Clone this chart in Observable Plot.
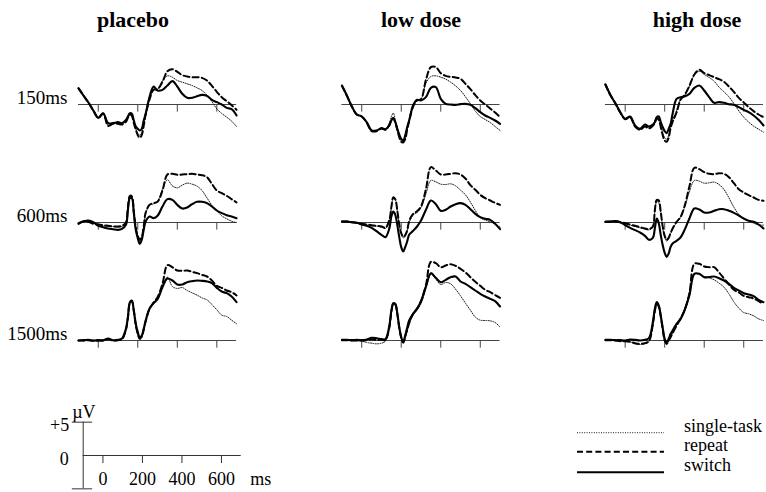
<!DOCTYPE html>
<html><head><meta charset="utf-8">
<script src="https://cdn.jsdelivr.net/npm/d3@7"></script>
<script src="https://cdn.jsdelivr.net/npm/@observablehq/plot@0.6"></script>
<style>
body{margin:0;background:#fff;}
#wrap{position:relative;width:766px;height:492px;overflow:hidden;font-family:"Liberation Serif","Times New Roman",serif;}
#wrap > svg{position:absolute;left:0;}
</style></head><body><div id="wrap"></div>
<script>
// ---- data ----
const times = [-100,-75,-50,-25,0,25,50,75,100,120,140,150,160,170,180,190,200,210,220,230,240,260,280,300,325,350,375,400,425,450,475,500,525,550,575,600,625,650,675,700];
const conditions = ["placebo","low dose","high dose"];
const intervals = ["150ms","600ms","1500ms"];
const seriesNames = ["single-task","repeat","switch"];
const tickValues = [0,200,400,600];
const scaleLabels = ["+5","0","µV","ms"];

// placebo
const placebo150Single = [2.4,1.3,0.25,-0.9,-2.0,-1.4,-3.1,-2.8,-2.8,-2.9,-2.5,-1.9,-1.3,-1.4,-2.6,-3.6,-4.3,-4.6,-4.2,-2.9,-1.3,0.9,2.3,2.3,3.6,4.3,4.1,3.6,3.35,3.1,2.85,2.5,2.1,1.4,0.45,-0.65,-1.35,-1.9,-2.5,-3.3];
const placebo150Repeat = [2.4,1.35,0.3,-0.9,-2.0,-1.4,-3.2,-2.9,-2.9,-3.0,-2.6,-2.0,-1.5,-1.7,-2.8,-3.8,-4.6,-5.0,-4.6,-3.2,-1.5,0.8,2.2,2.3,3.4,5.0,5.3,4.9,4.4,4.2,4.1,4.1,4.0,3.6,2.8,1.9,1.1,0.5,-0.1,-0.8];
const placebo150Switch = [2.45,1.35,0.3,-0.9,-2.0,-1.3,-2.8,-2.8,-2.65,-2.8,-2.3,-1.8,-1.3,-1.4,-2.4,-3.3,-3.65,-3.9,-3.65,-2.4,-1.4,1.2,2.7,2.1,2.2,2.85,3.5,2.7,1.6,1.0,1.0,1.25,1.45,1.3,0.7,0.35,0.0,-0.5,-0.7,-1.65];
const placebo600Single = [-0.15,0.15,0.15,-0.1,-0.3,-0.5,-0.6,-0.6,-0.7,-0.6,-0.1,2.0,3.9,3.8,1.5,-0.9,-2.1,-2.7,-2.3,-0.8,1.3,2.6,2.8,3.2,5.0,6.4,5.5,5.2,5.6,5.9,5.75,5.45,4.8,3.7,2.6,1.75,1.0,0.55,0.2,0.0];
const placebo600Repeat = [-0.1,0.2,0.1,-0.2,-0.3,-0.4,-0.5,-0.6,-0.6,-0.5,0.0,2.2,4.0,3.9,1.6,-0.8,-2.0,-2.6,-2.2,-0.6,1.5,2.65,2.9,3.1,4.8,7.2,7.3,7.15,7.2,7.25,7.3,7.2,7.1,6.8,5.8,4.8,4.4,4.0,3.5,3.0];
const placebo600Switch = [-0.2,0.15,0.3,0.05,-0.5,-0.7,-0.9,-1.0,-1.1,-0.95,-0.35,1.9,3.65,3.65,1.4,-1.1,-2.35,-3.2,-2.6,-1.1,0.15,0.9,0.65,1.0,2.4,3.5,3.4,2.65,2.1,2.25,2.75,3.1,3.1,2.9,2.4,1.8,1.4,1.1,0.9,0.65];
const placebo1500Single = [0,-0.05,0,0,-0.1,-0.1,0.25,-0.05,0,0.2,1.6,3.3,5.5,5.9,4.4,2.2,0.8,0.1,0.4,1.5,2.8,4.7,5.5,6.3,8.2,9.5,8.1,7.8,7.95,7.5,7.15,6.8,6.4,6.1,5.4,4.6,3.8,3.6,3.05,2.5];
const placebo1500Repeat = [0,0,0.05,-0.05,0,0,0.2,0,0.05,0.2,1.6,3.4,5.6,5.9,4.4,2.3,1.0,0.3,0.6,1.6,2.9,4.8,5.7,6.5,8.5,11.3,11.0,10.5,10.45,10.5,10.3,10.1,9.85,9.6,9.0,8.2,7.9,7.5,7.25,6.75];
const placebo1500Switch = [0,0.05,0.1,0,0.05,0.05,0.3,0.05,0.1,0.3,1.75,3.5,5.75,6.0,4.5,2.5,1.25,0.5,0.75,1.75,3.0,4.8,5.6,6.2,8.0,9.3,9.0,8.4,8.4,8.75,8.9,9.0,8.95,8.85,8.6,7.9,7.35,7.1,6.6,5.75];
// low dose
const low150Single = [2.8,1.3,-0.3,-1.5,-1.8,-2.7,-3.9,-3.9,-3.6,-3.8,-2.8,-1.8,-1.3,-2.3,-3.6,-4.8,-5.5,-5.6,-5.0,-3.6,-2.4,-0.3,0.6,0.8,3.2,4.2,4.3,4.1,3.8,3.35,2.8,2.1,1.15,0.1,-1.0,-1.8,-2.25,-2.7,-3.3,-3.9];
const low150Repeat = [2.8,1.3,-0.3,-1.5,-1.8,-2.7,-4.0,-4.0,-3.6,-3.8,-3.0,-2.3,-2.0,-2.7,-3.8,-4.9,-5.6,-5.7,-5.2,-3.8,-2.5,-0.3,0.6,0.8,3.7,5.6,5.6,4.7,4.3,4.15,4.05,3.85,3.1,2.3,1.4,0.6,0.0,-0.6,-1.2,-1.9];
const low150Switch = [2.85,1.35,-0.3,-1.5,-1.8,-2.65,-3.9,-3.9,-3.55,-3.7,-3.15,-2.4,-2.15,-2.65,-3.65,-4.5,-5.15,-5.4,-4.65,-3.4,-2.4,-0.15,0.7,0.6,1.1,2.5,2.6,0.85,0.1,0.0,-0.05,0.05,0.1,-0.05,-0.55,-1.15,-1.65,-2.0,-2.4,-2.9];
const low600Single = [0.1,0.1,0.0,-0.1,-0.3,-0.35,-0.5,-0.55,-0.7,-0.9,0.3,2.1,3.7,3.4,1.7,-0.4,-1.7,-2.3,-2.0,-1.3,0.0,1.1,1.5,2.2,4.3,6.3,6.1,5.75,5.7,5.8,5.5,4.85,4.15,3.05,1.8,0.7,0.35,0.1,-0.25,-0.7];
const low600Repeat = [0.15,0.15,0.05,-0.05,-0.2,-0.3,-0.4,-0.5,-0.6,-0.8,0.4,2.3,3.8,3.5,1.8,-0.3,-1.6,-2.2,-1.9,-1.2,0.2,1.3,1.7,2.4,5.0,8.3,7.8,7.2,7.2,7.3,7.4,7.2,6.6,5.6,4.9,4.15,3.65,3.3,2.95,2.65];
const low600Switch = [0.15,0.15,0.05,-0.05,-0.3,-0.5,-0.8,-1.3,-1.85,-2.2,-0.85,0.9,1.65,1.15,-0.35,-2.2,-3.7,-4.35,-3.7,-2.85,-1.85,-1.25,-0.6,0.3,1.9,3.3,2.75,1.75,1.9,2.4,2.75,2.9,2.65,2.0,1.3,0.8,0.55,0.4,-0.2,-1.0];
const low1500Single = [0.05,0.0,0.0,-0.05,-0.1,-0.3,-0.4,-0.5,-0.4,-0.1,1.8,4.1,5.4,5.3,3.9,1.8,0.3,-0.4,0.4,1.4,2.4,3.8,4.6,5.5,7.8,9.9,9.2,8.4,8.7,8.5,7.7,6.7,5.6,4.55,3.5,3.05,3.0,2.95,2.7,2.0];
const low1500Repeat = [0.05,0.05,0.0,0.0,0.0,0.05,0.2,0.1,0.1,0.1,2.0,4.3,5.5,5.4,4.0,1.9,0.4,-0.3,0.6,1.6,2.6,4.0,4.8,5.9,8.3,11.8,11.6,11.0,11.25,11.45,11.2,10.75,10.2,9.5,8.8,8.2,7.6,7.25,6.8,6.4];
const low1500Switch = [0.1,0.1,0.05,0.1,0.05,0.15,0.4,0.35,0.2,0.2,2.25,4.5,5.6,5.5,4.1,2.0,0.5,-0.25,0.75,1.9,3.0,4.0,4.75,5.9,8.1,10.1,9.4,8.75,9.1,9.5,9.6,8.85,8.5,8.0,7.5,7.0,6.6,6.25,5.9,5.1];
// high dose
const high150Single = [3.0,1.4,0.2,-1.2,-2.2,-1.9,-3.2,-3.7,-3.2,-3.5,-3.0,-2.4,-1.8,-2.0,-3.1,-4.2,-5.0,-5.2,-4.6,-3.3,-2.3,-0.9,0.8,1.3,2.7,4.4,5.0,4.5,4.05,3.5,2.6,1.9,1.15,0.15,-0.95,-1.9,-2.65,-3.25,-3.7,-4.15];
const high150Repeat = [3.0,1.4,0.2,-1.2,-2.2,-1.9,-3.3,-3.8,-3.3,-3.6,-3.2,-2.7,-2.1,-2.3,-3.4,-4.6,-5.4,-5.6,-5.0,-3.5,-2.6,-1.2,0.7,1.4,2.8,4.5,5.2,4.7,4.4,4.1,3.8,3.4,2.7,1.9,1.0,0.3,-0.4,-1.0,-1.5,-1.9];
const high150Switch = [3.0,1.45,0.2,-1.15,-2.15,-1.8,-3.15,-3.65,-3.0,-3.3,-3.0,-2.65,-1.9,-1.8,-2.65,-3.4,-4.0,-4.3,-3.65,-2.9,-1.4,0.85,1.1,1.2,1.6,2.5,2.85,2.1,1.1,0.25,0.35,0.25,0.05,-0.05,-0.4,-0.8,-1.15,-1.65,-2.3,-3.15];
const high600Single = [0.1,0.1,0.1,0.0,-0.2,-0.4,-0.6,-0.8,-1.0,-1.1,-0.7,1.6,3.2,2.9,1.4,-0.8,-2.2,-2.8,-2.4,-1.7,-1.0,0.0,0.8,2.2,4.6,6.3,6.2,5.9,5.95,6.05,5.7,4.95,3.7,2.3,1.2,0.5,0.25,-0.1,-0.35,-0.4];
const high600Repeat = [0.1,0.1,0.1,0.05,-0.1,-0.3,-0.5,-0.7,-0.9,-1.0,-0.6,1.8,3.4,3.3,1.6,-0.6,-2.0,-2.6,-2.3,-1.55,-0.9,0.1,0.8,2.4,5.4,8.2,8.0,7.55,7.3,7.25,7.4,7.3,6.8,5.9,5.0,4.5,4.1,3.75,3.4,3.25];
const high600Switch = [0.1,0.15,0.2,0.05,-0.4,-0.8,-1.15,-1.5,-2.0,-2.6,-2.3,-0.9,0.6,-0.1,-1.9,-3.4,-4.55,-5.15,-4.65,-3.65,-3.15,-2.75,-2.25,-1.15,0.6,2.1,1.95,1.5,1.5,1.75,2.0,2.0,1.75,1.45,1.05,0.6,0.25,0.1,-0.3,-0.9];
const high1500Single = [0.05,0.05,0.0,-0.1,-0.1,-0.2,-0.5,-0.6,-0.5,-0.2,2.3,4.3,5.4,5.0,3.5,1.6,-0.1,-0.6,-0.1,0.5,1.1,2.3,3.4,4.6,7.0,10.0,9.9,9.6,9.4,9.1,8.6,8.0,7.0,5.8,4.85,4.2,4.0,3.7,3.25,3.0];
const high1500Repeat = [0.05,0.05,0.0,-0.1,-0.1,-0.2,-0.4,-0.5,-0.4,-0.1,2.4,4.4,5.5,5.1,3.6,1.7,0.0,-0.5,0.0,0.5,1.1,2.2,3.3,4.5,7.1,11.5,11.5,11.1,11.0,11.0,10.2,9.3,8.4,7.6,7.2,6.7,6.5,6.3,5.9,5.5];
const high1500Switch = [0.1,0.1,0.05,0.05,0,0.15,0.1,0,0.1,0.35,2.75,4.75,5.75,5.25,3.75,1.9,0.25,-0.25,0.25,1.0,1.5,2.5,3.2,4.5,6.75,10.0,10.0,9.5,9.5,9.6,9.35,9.0,8.5,7.9,7.5,7.1,6.9,6.65,6.1,5.75];

// ---- assemble a tidy table ----
const panels = [
  [conditions[0], intervals[0], [placebo150Single, placebo150Repeat, placebo150Switch]],
  [conditions[0], intervals[1], [placebo600Single, placebo600Repeat, placebo600Switch]],
  [conditions[0], intervals[2], [placebo1500Single, placebo1500Repeat, placebo1500Switch]],
  [conditions[1], intervals[0], [low150Single, low150Repeat, low150Switch]],
  [conditions[1], intervals[1], [low600Single, low600Repeat, low600Switch]],
  [conditions[1], intervals[2], [low1500Single, low1500Repeat, low1500Switch]],
  [conditions[2], intervals[0], [high150Single, high150Repeat, high150Switch]],
  [conditions[2], intervals[1], [high600Single, high600Repeat, high600Switch]],
  [conditions[2], intervals[2], [high1500Single, high1500Repeat, high1500Switch]]
];
const table = [];
for (const [cond, row, arrs] of panels) {
  arrs.forEach((arr, s) => arr.forEach((v, i) => table.push({cond, row, series: seriesNames[s], t: times[i], v})));
}

// ---- styles ----
const font = '"Liberation Serif", "Times New Roman", serif';
const lineStyle = {
  "single-task": {stroke: "#1a1a1a", strokeWidth: 1, strokeDasharray: "1,1.4"},
  "repeat": {stroke: "#000", strokeWidth: 2, strokeDasharray: "6,3.2"},
  "switch": {stroke: "#000", strokeWidth: 2.1, strokeDasharray: null}
};

const wrap = document.getElementById("wrap");

// ---- main faceted plot ----
const main = Plot.plot({
  width: 766, height: 378,
  marginTop: 24, marginBottom: 0, marginLeft: 78, marginRight: 3,
  facet: {data: table, x: "cond", y: "row"},
  fx: {domain: conditions, paddingInner: 0.4, paddingOuter: 0, round: false, axis: null},
  fy: {domain: intervals, padding: 0, round: false, axis: null},
  x: {domain: [-100, 700], axis: null},
  y: {domain: [-5.7, 12], axis: null},
  style: {fontFamily: font, fontSize: "19px", background: "transparent", overflow: "visible", color: "#000"},
  marks: [
    Plot.ruleY([0], {stroke: "#444", strokeWidth: 1}),
    Plot.ruleX(tickValues, {y1: 0, y2: -1.15, stroke: "#444", strokeWidth: 1}),
    ...seriesNames.map(s => Plot.line(table, {
      filter: d => d.series === s, x: "t", y: "v", curve: "catmull-rom",
      ...Object.fromEntries(Object.entries(lineStyle[s]).filter(([k, v]) => v != null)),
      strokeLinejoin: "round"
    })),
    Plot.text(table, {
      filter: d => d.cond === conditions[0] && d.series === seriesNames[2] && d.t === times[0],
      x: "t", y: 0, text: "row", textAnchor: "end", lineAnchor: "bottom", dx: -11, dy: -1,
      fontSize: 19, fill: "#000"
    })
  ]
});
main.style.top = "0px";
wrap.appendChild(main);

// ---- calibration bar ----
const bar = Plot.plot({
  width: 300, height: 114, margin: 0,
  x: {domain: [-100, 700], range: [82.7, 240.7], axis: null},
  y: {domain: [-5.55, 11.55], range: [114, 0], axis: null},
  style: {fontFamily: font, fontSize: "18px", background: "transparent", overflow: "visible", color: "#000"},
  marks: [
    Plot.ruleY([0], {x1: -100, x2: 700, stroke: "#333"}),
    Plot.ruleX([-100], {y1: -5, y2: 5, stroke: "#333"}),
    Plot.ruleY([5, -5], {x1: -155, x2: -52, stroke: "#333"}),
    Plot.ruleX(tickValues, {y1: 0, y2: -1.2, stroke: "#333"}),
    Plot.text(tickValues, {x: d => d, y: 0, dy: 24, text: d => String(d), fill: "#000"}),
    Plot.text([scaleLabels[3]], {x: 700, y: 0, dx: 9, dy: 24, textAnchor: "start", text: d => d, fill: "#000"}),
    Plot.text([scaleLabels[0]], {x: -100, y: 5, dx: -14, dy: 3, textAnchor: "end", text: d => d, fill: "#000"}),
    Plot.text([scaleLabels[1]], {x: -100, y: 0, dx: -14.5, dy: 3.5, textAnchor: "end", text: d => d, fill: "#000"}),
    Plot.text([scaleLabels[2]], {x: -100, y: 5, dx: -11, dy: -4, textAnchor: "start", lineAnchor: "bottom", text: d => d, fill: "#000"})
  ]
});
bar.style.top = "378px";
wrap.appendChild(bar);

// ---- titles & legend overlay ----
const titleCenters = [133, 421, 697];
const ov = d3.create("svg").attr("width", 766).attr("height", 492)
  .style("top", "0px").style("pointer-events", "none").style("font-family", font);
ov.selectAll("text.title").data(conditions).join("text")
  .attr("class", "title").attr("x", (d, i) => titleCenters[i]).attr("y", 27)
  .attr("text-anchor", "middle").attr("font-weight", "bold").attr("font-size", 22).text(d => d);
const legendY = [432.7, 451.7, 472.3];
const lg = ov.append("g");
seriesNames.forEach((s, i) => {
  const st = lineStyle[s];
  lg.append("line").attr("x1", 577).attr("x2", 664).attr("y1", legendY[i]).attr("y2", legendY[i])
    .attr("stroke", st.stroke).attr("stroke-width", st.strokeWidth)
    .attr("stroke-dasharray", st.strokeDasharray);
  lg.append("text").attr("x", 684).attr("y", legendY[i] - 1).attr("font-size", 18).text(s);
});
wrap.appendChild(ov.node());
</script></body></html>
